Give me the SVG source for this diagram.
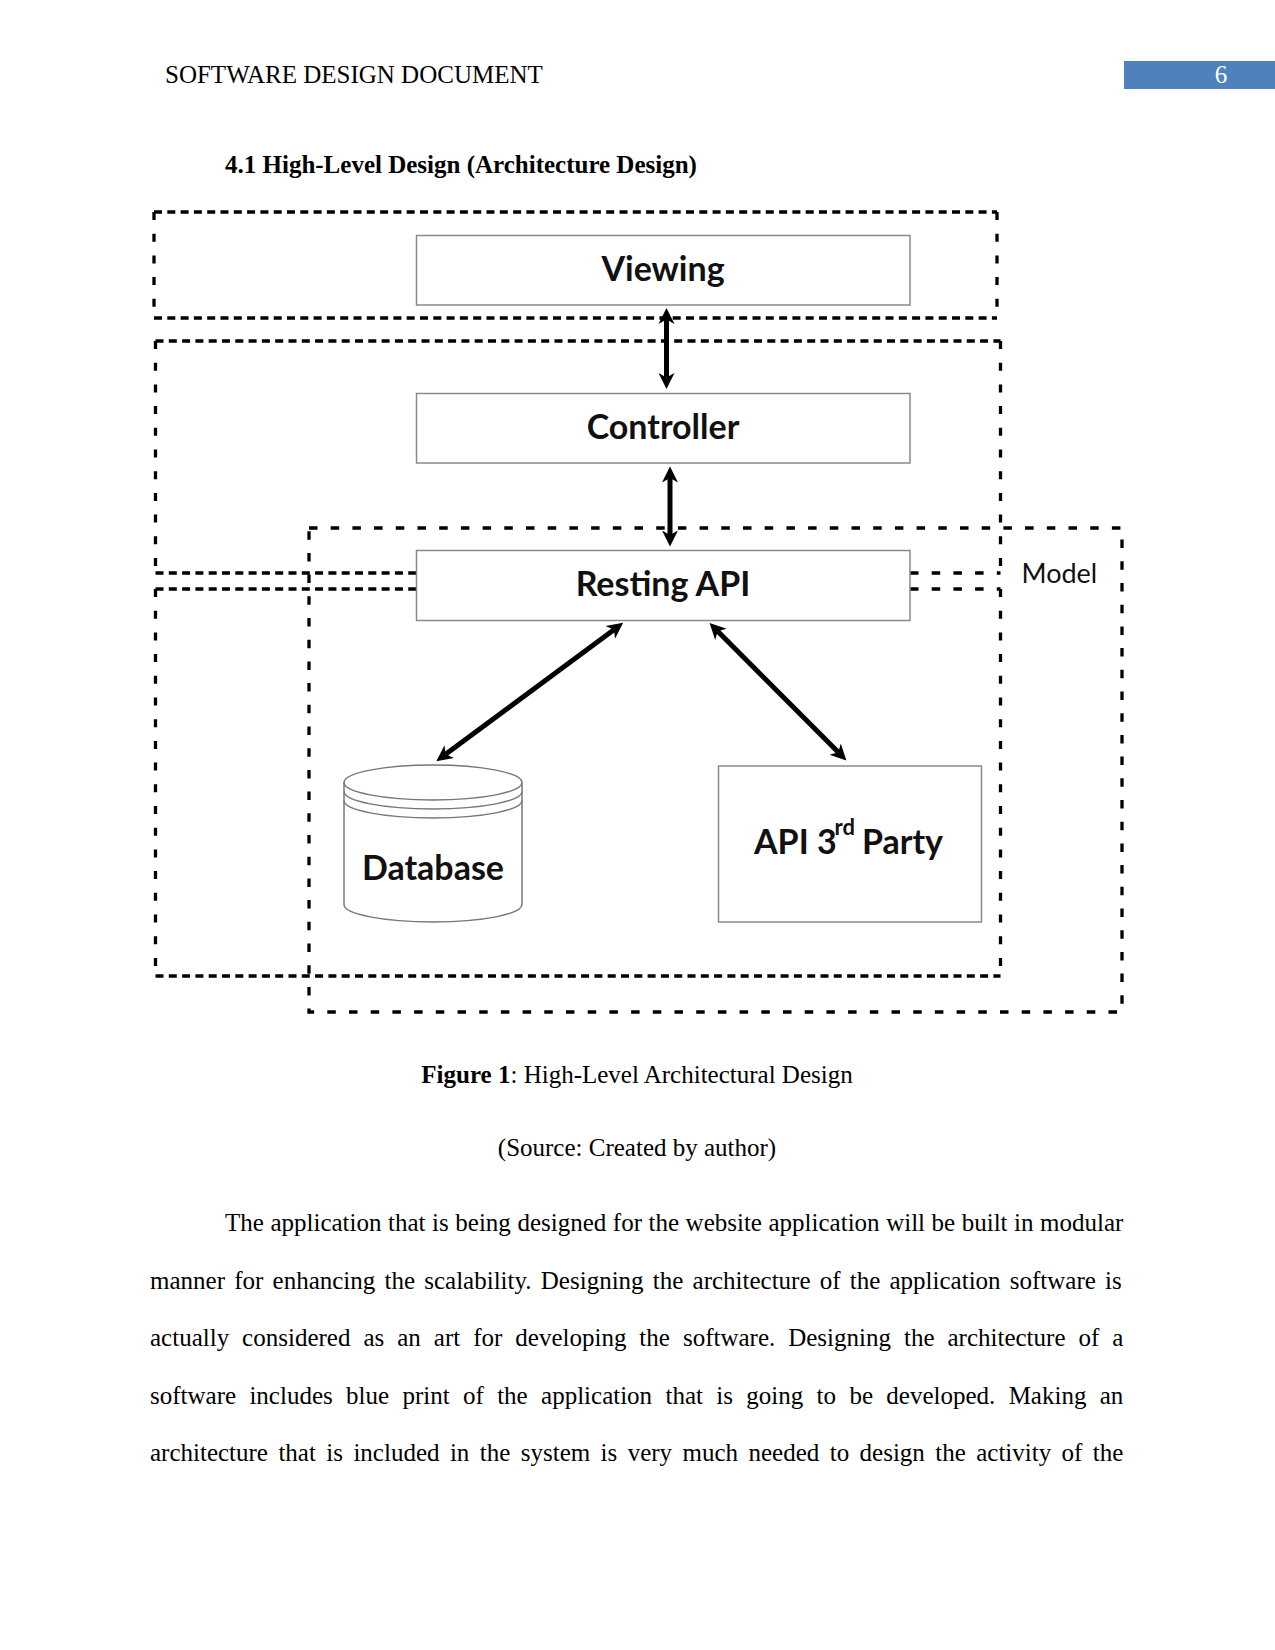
<svg xmlns="http://www.w3.org/2000/svg" width="1275" height="1650" viewBox="0 0 1275 1650">
<style>
.serif{font-family:"Liberation Serif","Times New Roman",serif;font-size:25px;fill:#000}
.b{font-weight:bold}
.lbl{font-family:Lato,"Open Sans","Liberation Sans",sans-serif;font-weight:bold;font-size:34px;fill:#111;text-anchor:middle}
.node{fill:#fff;stroke:#8a8a8a;stroke-width:1.5}
.dh{fill:none;stroke:#000;stroke-width:3.3;stroke-dasharray:8 5.3}
.dv{fill:none;stroke:#000;stroke-width:3.3;stroke-dasharray:8 13.7}
.dw{fill:none;stroke:#000;stroke-width:3.3;stroke-dasharray:8.5 13.2}
.conn{stroke:#000;stroke-width:5;fill:none;marker-start:url(#ah);marker-end:url(#ah)}
</style>
<defs>
<marker id="ah" markerUnits="userSpaceOnUse" markerWidth="18" markerHeight="18" viewBox="0 -9 18 18" refX="4.5" refY="0" orient="auto-start-reverse">
<path d="M16,0 L0,-8 L4.5,0 L0,8 Z" fill="#000"/>
</marker>
</defs>
<rect width="1275" height="1650" fill="#fff"/>

<g id="page-header">
<text class="serif" x="165" y="83">SOFTWARE DESIGN DOCUMENT</text>
<rect x="1124" y="61" width="151" height="28" fill="#4F81BD"/>
<text class="serif" x="1221" y="83" text-anchor="middle" style="fill:#fff">6</text>
</g>
<text class="serif b" x="225" y="172.5">4.1 High-Level Design (Architecture Design)</text>

<g id="layers">
<g id="layer-view">
<path class="dh" d="M154,212 H997 M154,318 H997"/>
<path class="dv" d="M154,212 V318 M997,212 V318"/>
</g>
<g id="layer-controller">
<path class="dh" d="M155.5,341 H1000.5 M155.5,573 H910"/>
<path class="dw" d="M910,573 H1000.5"/>
<path class="dv" d="M155.5,341 V573 M1000.5,341 V573"/>
</g>
<g id="layer-lower">
<path class="dh" d="M155.5,589 H910 M155.5,976 H1000.5"/>
<path class="dw" d="M910,589 H1000.5"/>
<path class="dv" d="M155.5,589 V976 M1000.5,589 V976"/>
</g>
<g id="layer-model">
<path class="dw" d="M309,528 H1122 V1012 H309 Z"/>
<text x="1021.5" y="582.7" style="font-family:Lato,'Open Sans','Liberation Sans',sans-serif;font-size:27px;fill:#111">Model</text>
</g>
</g>

<g id="viewing">
<rect class="node" x="416.5" y="235.5" width="493.5" height="69.5"/>
<text class="lbl" x="663" y="281">Viewing</text>
</g>
<g id="controller">
<rect class="node" x="416.5" y="393.5" width="493.5" height="69.5"/>
<text class="lbl" x="663" y="438.5">Controller</text>
</g>
<g id="resting-api">
<rect class="node" x="416.5" y="550.5" width="493.5" height="70"/>
<text class="lbl" x="663" y="595.5">Resting API</text>
</g>
<g id="database">
<path class="node" d="M344,782.5 V904.5 A89,17.5 0 0 0 522,904.5 V782.5 A89,17.5 0 0 0 344,782.5 Z" style="stroke:#777"/>
<path d="M344,782.5 A89,17.5 0 0 0 522,782.5 M344,791.5 A89,17.5 0 0 0 522,791.5 M344,800.5 A89,17.5 0 0 0 522,800.5" fill="none" stroke="#777" stroke-width="1.5"/>
<text class="lbl" x="433" y="879.5">Database</text>
</g>
<g id="api-3rd-party">
<rect class="node" x="718.5" y="766" width="263" height="156"/>
<text class="lbl" style="text-anchor:start"><tspan x="754" y="853.5">API 3</tspan><tspan x="834.5" y="835" style="font-size:22px">rd</tspan><tspan x="862" y="853.5">Party</tspan></text>
</g>

<g id="connectors">
<path class="conn" d="M666.5,319.5 V377.5"/>
<path class="conn" d="M670,478 V535"/>
<path class="conn" d="M613.9,629.7 L445.6,754.3"/>
<path class="conn" d="M717.7,631.2 L838.3,752.3"/>
</g>

<g id="caption">
<text class="serif" x="637" y="1082.5" text-anchor="middle"><tspan style="font-weight:bold">Figure 1</tspan>: High-Level Architectural Design</text>
<text class="serif" x="637" y="1156" text-anchor="middle">(Source: Created by author)</text>
</g>
<g id="body">
<text class="serif" x="225" y="1231" style="word-spacing:0.3px">The application that is being designed for the website application will be built in modular</text>
<text class="serif" x="150" y="1288.5" style="word-spacing:2.96px">manner for enhancing the scalability. Designing the architecture of the application software is</text>
<text class="serif" x="150" y="1346" style="word-spacing:6.74px">actually considered as an art for developing the software. Designing the architecture of a</text>
<text class="serif" x="150" y="1403.5" style="word-spacing:7.09px">software includes blue print of the application that is going to be developed. Making an</text>
<text class="serif" x="150" y="1460.5" style="word-spacing:4.17px">architecture that is included in the system is very much needed to design the activity of the</text>
</g>
</svg>
